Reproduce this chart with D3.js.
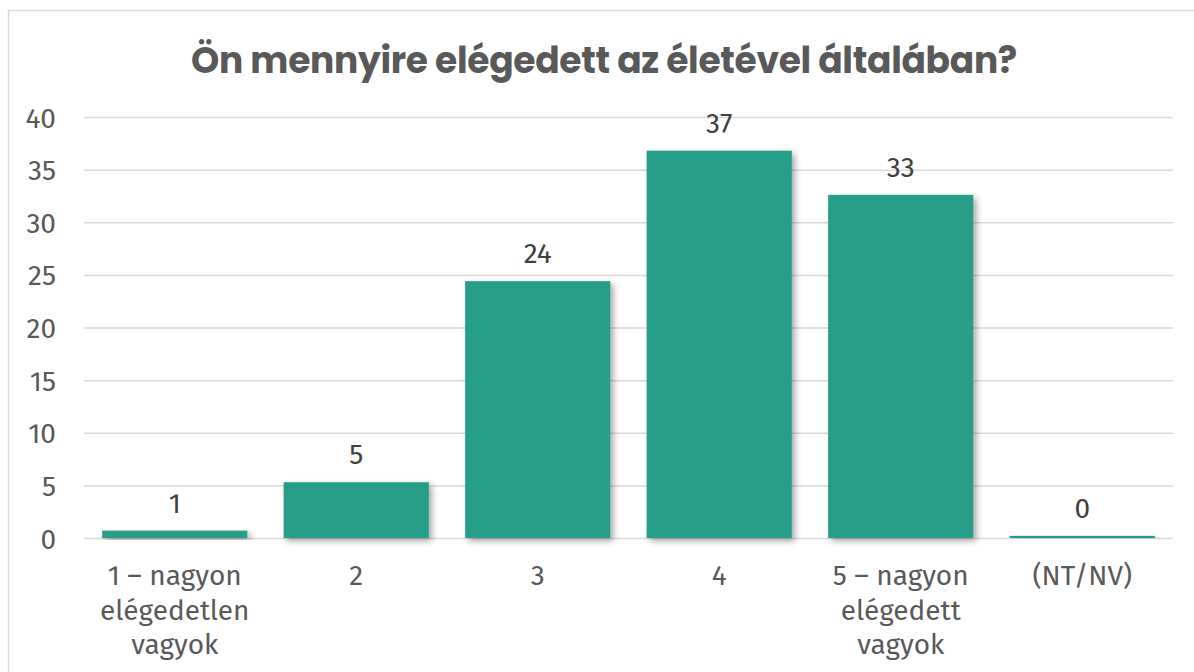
<!DOCTYPE html>
<html>
<head>
<meta charset="utf-8">
<script src="https://cdn.jsdelivr.net/npm/d3@7"></script>
<style>
  body { margin: 0; background: #fff; }
  text { font-family: "Fira Sans", "Open Sans", "Noto Sans", sans-serif; }
</style>
</head>
<body>
<svg id="chart" width="1194" height="672"></svg>
<script>
const categories = ["1 – nagyon elégedetlen vagyok", "2", "3", "4", "5 – nagyon elégedett vagyok", "(NT/NV)"];
const categoryLines = [["1 – nagyon", "elégedetlen", "vagyok"], ["2"], ["3"], ["4"], ["5 – nagyon", "elégedett", "vagyok"], ["(NT/NV)"]];
const values = [0.7, 5.3, 24.4, 36.8, 32.6, 0.2];
const yTicks = [0, 5, 10, 15, 20, 25, 30, 35, 40];

const svg = d3.select("#chart");
const width = +svg.attr("width");
const height = +svg.attr("height");
const margin = { top: 117, right: 21, bottom: 134, left: 84 };

// frame
svg.append("rect")
  .attr("x", 8.5).attr("y", 10.5)
  .attr("width", width + 10).attr("height", height)
  .attr("fill", "none")
  .attr("stroke", "#d9d9d9")
  .attr("stroke-width", 1.5);

// shadow filter
const defs = svg.append("defs");
const f = defs.append("filter").attr("id", "shadow")
  .attr("x", "-10%").attr("y", "-10%").attr("width", "130%").attr("height", "130%");
f.append("feDropShadow")
  .attr("dx", 3).attr("dy", 3).attr("stdDeviation", 3)
  .attr("flood-color", "#000").attr("flood-opacity", 0.35);

svg.append("text")
  .attr("x", 604).attr("y", 73)
  .attr("text-anchor", "middle")
  .style("font-family", "Poppins, Inter, 'Open Sans', sans-serif")
  .style("font-weight", 700)
  .style("font-size", "36px")
  .style("letter-spacing", "-0.3px")
  .attr("fill", "#595959")
  .text("Ön mennyire elégedett az életével általában?");

const x = d3.scaleBand()
  .domain(categories)
  .range([margin.left, width - margin.right])
  .paddingInner(0.2)
  .paddingOuter(0.1);

const y = d3.scaleLinear()
  .domain([0, 40])
  .range([height - margin.bottom, margin.top]);

// grid
svg.append("g")
  .attr("transform", `translate(${margin.left},0)`)
  .call(d3.axisLeft(y).tickValues(yTicks)
    .tickSize(-(width - margin.left - margin.right)).tickFormat(""))
  .call(g => g.select(".domain").remove())
  .call(g => g.selectAll("line").attr("stroke", "#d9d9d9").attr("stroke-width", 1.5));

// y labels
svg.append("g")
  .attr("transform", `translate(${margin.left},0)`)
  .call(d3.axisLeft(y).tickValues(yTicks).tickSize(0).tickPadding(28))
  .call(g => g.select(".domain").remove())
  .call(g => g.selectAll("text")
    .attr("fill", "#595959")
    .style("font-size", "28px")
    .attr("dy", "0.36em"));

// bars
svg.append("g").selectAll("rect")
  .data(values)
  .join("rect")
  .attr("x", (d, i) => x(categories[i]))
  .attr("y", d => y(d))
  .attr("width", x.bandwidth())
  .attr("height", d => y(0) - y(d))
  .attr("fill", "#289e8a")
  .attr("filter", "url(#shadow)");

// data labels
svg.append("g").selectAll("text")
  .data(values)
  .join("text")
  .attr("x", (d, i) => x(categories[i]) + x.bandwidth() / 2)
  .attr("y", d => y(d) - 18)
  .attr("text-anchor", "middle")
  .attr("fill", "#404040")
  .style("font-size", "28px")
  .text(d => Math.round(d));

// category labels
const xg = svg.append("g").selectAll("text")
  .data(categoryLines)
  .join("text")
  .attr("x", (d, i) => x(categories[i]) + x.bandwidth() / 2)
  .attr("y", y(0) + 47)
  .attr("text-anchor", "middle")
  .attr("fill", "#595959")
  .style("font-size", "28px");

xg.selectAll("tspan")
  .data(d => d)
  .join("tspan")
  .attr("x", function() { return this.parentNode.getAttribute("x"); })
  .attr("dy", (d, i) => i === 0 ? 0 : 34.5)
  .text(d => d);
</script>
</body>
</html>
